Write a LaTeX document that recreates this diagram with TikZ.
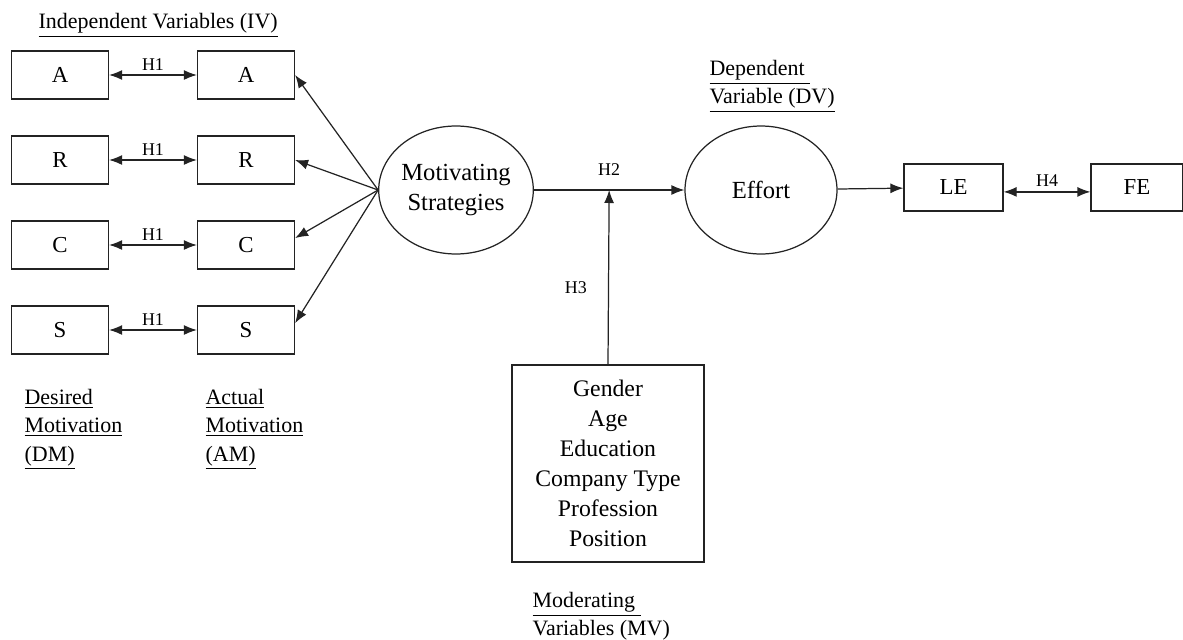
\documentclass[tikz,border=0pt]{standalone}
\usepackage{fontspec}
\setmainfont{Liberation Serif}
\usetikzlibrary{positioning,shapes.geometric,arrows.meta}
\definecolor{LineColor}{RGB}{35,35,35}

\begin{document}
\begin{tikzpicture}[x=0.02cm, y=-0.02cm,
    >={Latex[length=2.6mm,width=2mm]},
    line width=0.7pt, draw=LineColor,
    var/.style={draw, rectangle, minimum width=1.94cm, minimum height=0.96cm,
        inner sep=0pt, font=\fontsize{13}{16}\selectfont},
    construct/.style={draw, ellipse, minimum width=3.04cm, minimum height=2.56cm,
        inner sep=0pt, align=center, font=\fontsize{14}{17}\selectfont},
    hyp/.style={inner sep=2pt, font=\fontsize{10.2}{12}\selectfont},
    caption/.style={anchor=north west, align=left, inner sep=0pt,
        font=\fontsize{12.5}{16}\selectfont}]

    \useasboundingbox (0,0) rectangle (1183,639);

    \node[caption, anchor=base west] (IVLabel) at (38,29)
        {\underline{Independent Variables (IV)}};

    % desired / actual motivation
    \foreach \name/\row in {A/75, R/160, C/245, S/330} {
        \node[var] (\name1) at (60,\row) {\name};
        \node[var] (\name2) at (246,\row) {\name};
        \draw[<->] (\name1) -- node[hyp, above] (H1\name) {H1} (\name2);
    }

    \node[caption] (DMLabel) at (24,389)
        {\underline{Desired}\\\underline{Motivation}\\\underline{(DM)}};
    \node[caption] (AMLabel) at (205,389)
        {\underline{Actual}\\\underline{Motivation}\\\underline{(AM)}};

    \node[construct] (Strategies) at (456,190) {Motivating\\Strategies};
    \node[construct] (Effort) at (761,190) {Effort};

    \node[caption] (DVLabel) at (709,60)
        {\underline{Dependent\ }\\\underline{Variable (DV)}};

    \foreach \name/\anc in {A/east, R/east, C/8, S/8}
        \draw[->] (Strategies.west) -- (\name2.\anc);

    \draw[->] (Strategies) -- node[hyp, above=6pt] (H2) {H2}
        coordinate[midway] (Join) (Effort);

    % moderators
    \node[draw, rectangle, minimum width=3.84cm, minimum height=3.94cm,
        align=center, font=\fontsize{13.5}{17}\selectfont] (Moderators) at (608,463.5)
        {Gender\\Age\\Education\\Company Type\\Profession\\Position};
    \draw[->] (Moderators.north) -- node[hyp, pos=0.44, left=10pt] (H3) {H3} (Join);

    \node[caption] (MVLabel) at (532,592)
        {\underline{Moderating\ }\\\underline{Variables (MV)}};

    % outcomes
    \node[var, minimum width=1.98cm, minimum height=0.94cm] (LE) at (953.5,187.5) {LE};
    \node[var, minimum width=1.84cm, minimum height=0.94cm] (FE) at (1137,187.5) {FE};

    \draw[->] (Effort) -- (LE);
    \draw[<->] ([yshift=-2.5pt]LE.east) -- node[hyp, above=1pt] (H4) {H4}
        ([yshift=-2.5pt]FE.west);

\end{tikzpicture}
\end{document}
